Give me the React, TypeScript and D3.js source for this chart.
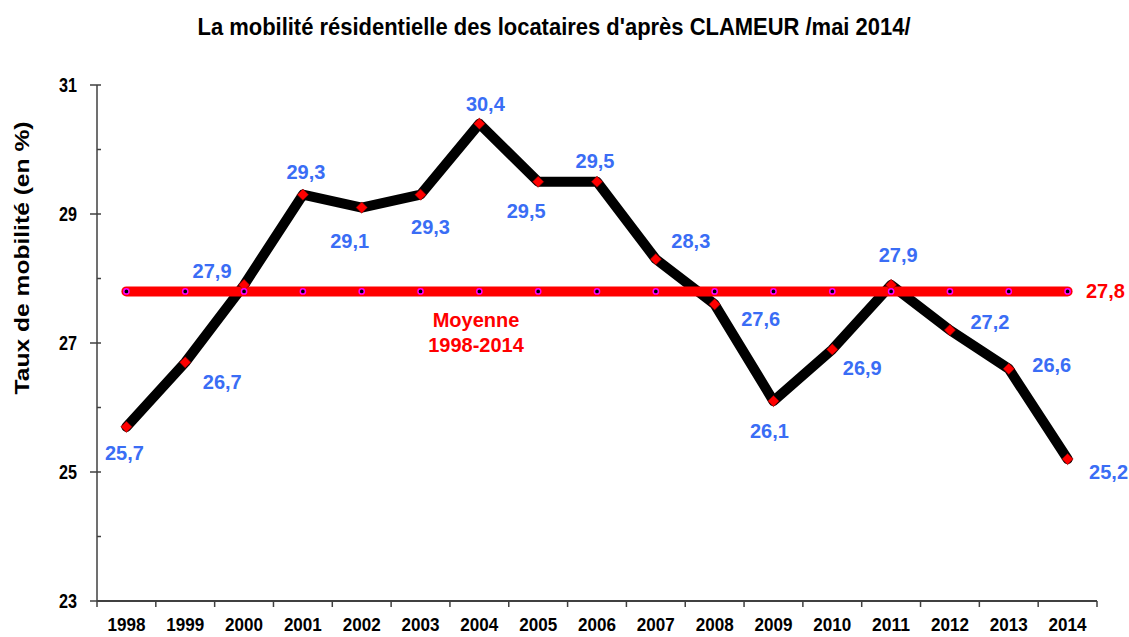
import React from "react";
import * as d3 from "d3";

const years = ["1998","1999","2000","2001","2002","2003","2004","2005","2006","2007","2008","2009","2010","2011","2012","2013","2014"];
const mobility = [25.7, 26.7, 27.9, 29.3, 29.1, 29.3, 30.4, 29.5, 29.5, 28.3, 27.6, 26.1, 26.9, 27.9, 27.2, 26.6, 25.2];
const meanValue = 27.8;
const yTicks = [23, 25, 27, 29, 31];
const yMinorTicks = [24, 26, 28, 30];
// label placement offsets (dx, dy) relative to each point
const labelOffsets: [number, number][] = [
  [-2, 26], [37, 20], [-32, -14], [3, -23], [-12, 33], [10, 32], [6, -20], [-12, 29], [-2, -21],
  [35, -18], [46, 15], [-4, 30], [30, 19], [7, -30], [40, -8], [43, -4], [41, 13],
];

const title = "La mobilité résidentielle des locataires d'après CLAMEUR /mai 2014/";
const yTitle = "Taux de mobilité (en %)";
const meanLabel = ["Moyenne", "1998-2014"];

const W = 1129, H = 637;
const left = 97, right = 1097, top = 85, bottom = 601;
const BLUE = "#3A6DF5";
const RED = "#FF0000";
const AXIS = "#404040";
const ARIAL = "'Liberation Sans', Arial, sans-serif";

const fmt = (v: number) => v.toFixed(1).replace(".", ",");

export default function App() {
  const x = d3.scaleBand<string>().domain(years).range([left, right]).padding(0);
  const y = d3.scaleLinear().domain([23, 31]).range([bottom, top]);
  const cx = (yr: string) => (x(yr) as number) + x.bandwidth() / 2;

  const line = d3.line<number>().x((_, i) => cx(years[i])).y((d) => y(d));
  const meanLine = d3.line<string>().x((yr) => cx(yr)).y(() => y(meanValue));
  const diamond = d3.symbol().type(d3.symbolDiamond2).size(80)();

  const boundaries = years.map((yr) => x(yr) as number).concat([right]);

  return (
    <div style={{ position: "absolute", left: 0, top: 0 }}>
      <svg width={W} height={H} style={{ display: "block", background: "#fff" }}>
        {/* title */}
        <text x={554} y={35} textAnchor="middle" fontFamily={ARIAL} fontWeight="bold" fontSize={23}
          textLength={713} lengthAdjust="spacingAndGlyphs" fill="#000">{title}</text>

        {/* y title */}
        <text transform={`translate(29,258) rotate(-90)`} textAnchor="middle" fontFamily={ARIAL} fontWeight="bold"
          fontSize={20} textLength={273} lengthAdjust="spacingAndGlyphs" fill="#000">{yTitle}</text>

        {/* y axis */}
        <line x1={left} x2={left} y1={top} y2={bottom} stroke={AXIS} strokeWidth={1.5} />
        {yTicks.map((t) => (
          <g key={"yt" + t}>
            <line x1={left - 7} x2={left + 4} y1={y(t)} y2={y(t)} stroke={AXIS} strokeWidth={1.5} />
            <text x={77} y={y(t) + 7} textAnchor="end" fontFamily={ARIAL} fontWeight="bold" fontSize={20}
              textLength={18} lengthAdjust="spacingAndGlyphs" fill="#000">{t}</text>
          </g>
        ))}
        {yMinorTicks.map((t) => (
          <line key={"ym" + t} x1={left} x2={left + 4} y1={y(t)} y2={y(t)} stroke={AXIS} strokeWidth={1.5} />
        ))}

        {/* x axis */}
        <line x1={left} x2={right} y1={bottom} y2={bottom} stroke={AXIS} strokeWidth={2} />
        {boundaries.map((b, i) => (
          <line key={"xt" + i} x1={b} x2={b} y1={bottom} y2={bottom + 6} stroke={AXIS} strokeWidth={1.5} />
        ))}
        {years.map((yr) => (
          <text key={"xl" + yr} x={cx(yr)} y={631} textAnchor="middle" fontFamily={ARIAL} fontWeight="bold" fontSize={19}
            textLength={38} lengthAdjust="spacingAndGlyphs" fill="#000">{yr}</text>
        ))}

        {/* data line */}
        <path d={line(mobility) || ""} fill="none" stroke="#000" strokeWidth={10} strokeLinejoin="round" strokeLinecap="round" />

        {/* mean line */}
        <path d={meanLine(years) || ""} fill="none" stroke={RED} strokeWidth={10} strokeLinecap="round" />

        {/* data markers */}
        {mobility.map((v, i) => (
          <path key={"dm" + i} d={diamond || ""} transform={`translate(${cx(years[i])},${y(v)})`} fill={RED} stroke="#7a0000" strokeWidth={0.6} />
        ))}

        {/* mean markers */}
        {years.map((yr) => (
          <circle key={"mm" + yr} cx={cx(yr)} cy={y(meanValue)} r={2.6} fill="#000" stroke="#FF00FF" strokeWidth={1.5} />
        ))}

        {/* data labels */}
        {mobility.map((v, i) => (
          <text key={"lb" + i} x={cx(years[i]) + labelOffsets[i][0]} y={y(v) + labelOffsets[i][1] + 7}
            textAnchor="middle" fontFamily={ARIAL} fontWeight="bold" fontSize={20} fill={BLUE}>{fmt(v)}</text>
        ))}

        {/* mean labels */}
        <text x={1086} y={y(meanValue) + 7} fontFamily={ARIAL} fontWeight="bold" fontSize={20} fill={RED}>{fmt(meanValue)}</text>
        <text x={476} y={327} textAnchor="middle" fontFamily={ARIAL} fontWeight="bold" fontSize={20} fill={RED}>{meanLabel[0]}</text>
        <text x={476} y={352} textAnchor="middle" fontFamily={ARIAL} fontWeight="bold" fontSize={20} fill={RED}>{meanLabel[1]}</text>
      </svg>
    </div>
  );
}
